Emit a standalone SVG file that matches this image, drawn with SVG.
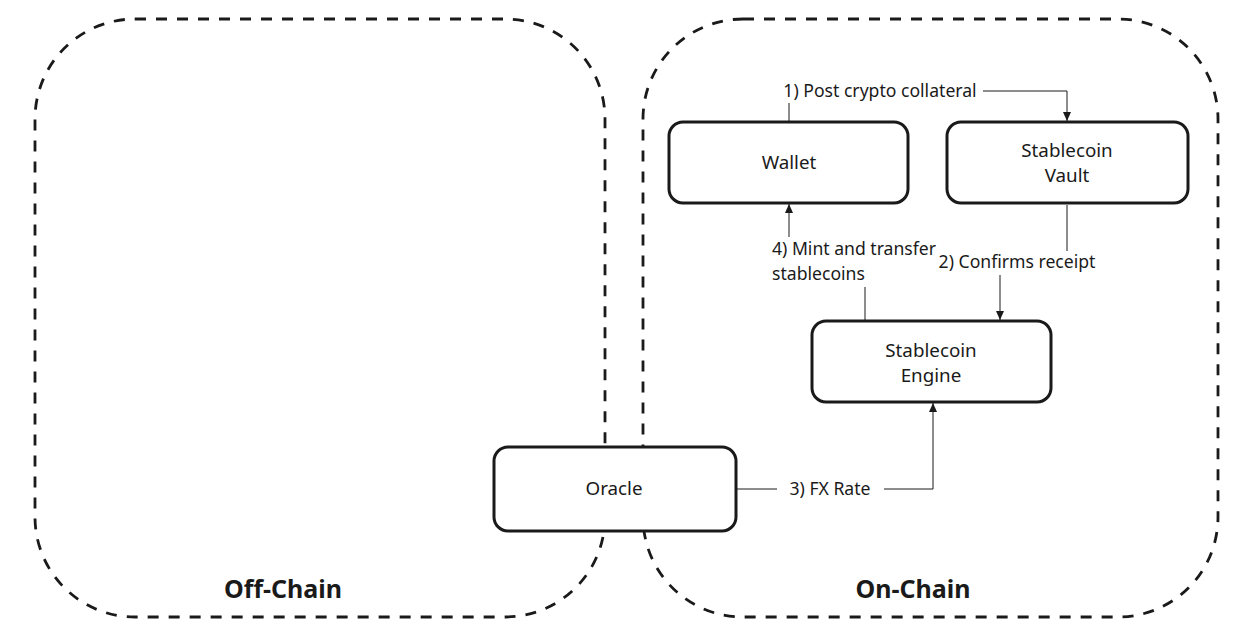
<svg xmlns="http://www.w3.org/2000/svg" width="1238" height="634" viewBox="0 0 1238 634">
<style>
.cont{fill:none;stroke:#1a1a1a;stroke-width:2.8;stroke-dasharray:11 10}
.node{fill:#fff;stroke:#1a1a1a;stroke-width:3}
.t{font-family:"Noto Sans","Open Sans",sans-serif;font-size:18.8px;fill:#1a1a1a;text-anchor:middle}
.ct{font-family:"Noto Sans","Open Sans",sans-serif;font-size:25px;font-weight:bold;fill:#1a1a1a;text-anchor:middle}
.lb{font-family:"Noto Sans","Open Sans",sans-serif;font-size:17.6px;fill:#1a1a1a}
.c{fill:none;stroke:#1a1a1a;stroke-width:1}
.bg{fill:#fff}
</style>
<defs>
<marker id="arr" markerWidth="10" markerHeight="12" refX="9" refY="6" orient="auto" markerUnits="userSpaceOnUse">
<path d="M0,2 L9,6 L0,10 Z" fill="#1a1a1a"/>
</marker>
</defs>
<rect width="1238" height="634" fill="#fff"/>
<g id="off-chain">
<rect class="cont" x="35" y="19" width="570" height="598" rx="100" ry="100"/>
<text class="ct" x="283" y="598">Off-Chain</text>
</g>
<g id="on-chain">
<rect class="cont" x="643" y="19" width="575" height="598" rx="100" ry="100"/>
<text class="ct" x="913" y="598">On-Chain</text>
</g>
<g id="connectors">
<path class="c" d="M789,122 V91 H1067 V121" marker-end="url(#arr)"/>
<rect class="bg" x="779" y="79" width="204" height="24"/>
<text class="lb" x="880" y="97" text-anchor="middle">1) Post crypto collateral</text>
<path class="c" d="M1067,205 V262 H1000 V320" marker-end="url(#arr)"/>
<path class="c" d="M865,320 V262 H789 V204" marker-end="url(#arr)"/>
<path class="c" d="M737,489 H933 V403" marker-end="url(#arr)"/>
<rect class="bg" x="769" y="237" width="168" height="50"/>
<rect class="bg" x="935" y="251" width="164" height="24"/>
<rect class="bg" x="777" y="477" width="107" height="24"/>
<text class="lb" x="772" y="255">4) Mint and transfer</text>
<text class="lb" x="772" y="280">stablecoins</text>
<text class="lb" x="1017" y="268" text-anchor="middle">2) Confirms receipt</text>
<text class="lb" x="830" y="495" text-anchor="middle">3) FX Rate</text>
</g>
<g id="wallet">
<rect class="node" x="669" y="122" width="239" height="81" rx="14"/>
<text class="t" x="789" y="169">Wallet</text>
</g>
<g id="vault">
<rect class="node" x="947" y="122" width="241" height="81" rx="14"/>
<text class="t" x="1067" y="157">Stablecoin</text>
<text class="t" x="1067" y="182">Vault</text>
</g>
<g id="engine">
<rect class="node" x="812" y="321" width="239" height="81" rx="14"/>
<text class="t" x="931" y="357">Stablecoin</text>
<text class="t" x="931" y="382">Engine</text>
</g>
<g id="oracle">
<rect class="node" x="494" y="447" width="242" height="84" rx="14"/>
<text class="t" x="614" y="495">Oracle</text>
</g>
</svg>
